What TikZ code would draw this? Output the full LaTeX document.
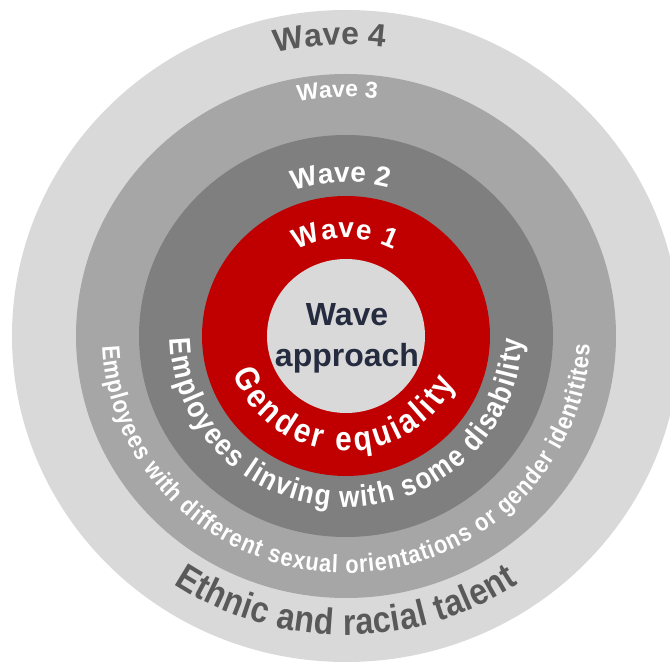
\documentclass[tikz,border=0pt]{standalone}
\usepackage{fontspec}
\setmainfont{Liberation Sans}
\newfontfamily\arcfont[FakeStretch=0.87]{Liberation Sans}
\usetikzlibrary{decorations.text}

\definecolor{ringfour}{HTML}{D9D9D9}
\definecolor{ringthree}{HTML}{A6A6A6}
\definecolor{ringtwo}{HTML}{7F7F7F}
\definecolor{ringone}{HTML}{C00000}
\definecolor{hubfill}{HTML}{D9D9D9}
\definecolor{labeldark}{HTML}{595959}
\definecolor{hubtext}{HTML}{262C40}

\tikzset{
  arctext/.style={decorate, decoration={text along path, text align={fit to path}}},
  toptext/.style={decorate, decoration={text along path, text align=center}},
}

\begin{document}
\begin{tikzpicture}[x=1pt, y=1pt]
  \useasboundingbox (-346,-330) rectangle (324,336);
  \clip (-346,-330) rectangle (324,336);

  % rings, outside in
  \fill[ringfour]  (0,0) ellipse [x radius=334, y radius=326];
  \fill[ringthree] (0,0) ellipse [x radius=270, y radius=262];
  \fill[ringtwo]   (0,0) ellipse [x radius=207, y radius=201];
  \fill[ringone]   (0,0) ellipse [x radius=144, y radius=140];
  \fill[hubfill]   (0,0) ellipse [x radius=79, y radius=77];

  \node (hub) at (1,-2) [align=center, text=hubtext,
    font=\bfseries\fontsize{32}{41}\selectfont] {Wave\\approach};

  % wave names on top
  \path[toptext, decoration={text color=labeldark,
      text={|\bfseries\fontsize{32}{32}\selectfont|Wave 4}}]
    (113:300 and 291) arc [start angle=113, end angle=73, x radius=300, y radius=291];
  \path[toptext, decoration={text color=white,
      text={|\bfseries\fontsize{23}{23}\selectfont|Wave 3}}]
    (112:246 and 239) arc [start angle=112, end angle=72, x radius=246, y radius=239];
  \path[toptext, decoration={text color=white,
      text={|\bfseries\fontsize{28}{28}\selectfont|Wave 2}}]
    (122:159 and 154) arc [start angle=122, end angle=62, x radius=159, y radius=154];
  \path[arctext, decoration={text color=white,
      text={|\bfseries\fontsize{28}{28}\selectfont|Wave 1}}]
    (119:101 and 98) arc [start angle=119, end angle=62, x radius=101, y radius=98];

  % groups along the bottom
  \path[arctext, decoration={text color=white,
      text={|\arcfont\bfseries\fontsize{34}{34}\selectfont|Gender equiality}}]
    (199:119 and 115) arc [start angle=199, end angle=336, x radius=119, y radius=115];
  \path[arctext, decoration={text color=white,
      text={|\arcfont\bfseries\fontsize{30}{30}\selectfont|Employees linving with some disability}}]
    (181:176 and 171) arc [start angle=181, end angle=359, x radius=176, y radius=171];
  \path[arctext, decoration={text color=white,
      text={|\arcfont\bfseries\fontsize{25}{25}\selectfont|Employees with different sexual orientations or gender identitites}}]
    (182.5:244 and 237) arc [start angle=182.5, end angle=358, x radius=244, y radius=237];
  \path[arctext, decoration={text color=labeldark,
      text={|\arcfont\bfseries\fontsize{37}{37}\selectfont|Ethnic and racial talent}}]
    (236:308 and 299) arc [start angle=236, end angle=304, x radius=308, y radius=299];
\end{tikzpicture}
\end{document}
